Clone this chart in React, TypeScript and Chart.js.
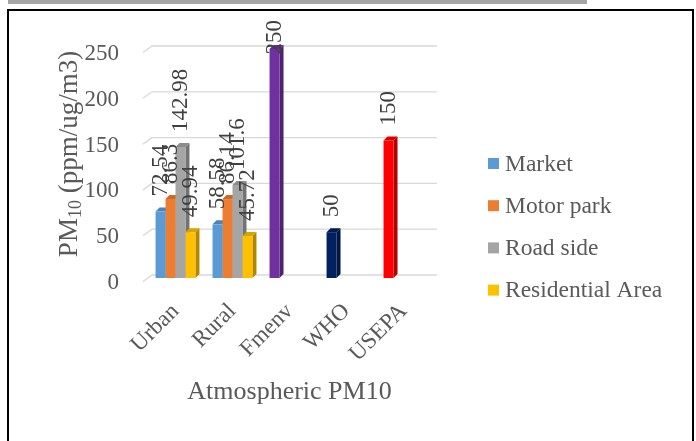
import React, { useEffect, useRef } from "react";
import { Chart, registerables } from "chart.js";

Chart.register(...registerables);

const categories = ["Urban", "Rural", "Fmenv", "WHO", "USEPA"];
const seriesNames = ["Market", "Motor park", "Road side", "Residential Area"];
const marketValues = [72.54, 58.58, 250, 50, 150];
const motorParkValues = [86.3, 86.14, null, null, null];
const roadSideValues = [142.98, 101.6, null, null, null];
const residentialValues = [49.94, 45.72, null, null, null];
const yTicks = [0, 50, 100, 150, 200, 250];
const seriesColors = ["#5B9BD5", "#ED7D31", "#A5A5A5", "#FFC000"];
const marketPointColors = ["#5B9BD5", "#5B9BD5", "#7030A0", "#002060", "#FF0000"];
const xTitle = "Atmospheric PM10";
const yTitleMain = "PM";
const yTitleSub = "10";
const yTitleRest = " (ppm/ug/m3)";

const FONT = '"Liberation Serif", "Times New Roman", serif';
const TEXT = "#595959";
const LABEL = "#404040";
const GRID = "#D9D9D9";

function shade(hex: string, f: number): string {
  const n = parseInt(hex.slice(1), 16);
  const r = Math.round(((n >> 16) & 255) * f);
  const g = Math.round(((n >> 8) & 255) * f);
  const b = Math.round((n & 255) * f);
  return `rgb(${r},${g},${b})`;
}

const floorGridPlugin = {
  id: "floorGrid",
  beforeDatasetsDraw(chart: any) {
    const { ctx, chartArea } = chart;
    const ys = chart.scales.y;
    ctx.save();
    ctx.strokeStyle = GRID;
    ctx.lineWidth = 1.3;
    yTicks.forEach((v) => {
      const y = ys.getPixelForValue(v);
      ctx.beginPath();
      ctx.moveTo(chartArea.left - 4, y + 3.5);
      ctx.lineTo(chartArea.left + 5, y - 3);
      ctx.lineTo(chartArea.right + 5, y - 3);
      ctx.stroke();
    });
    ctx.restore();
  },
};

const bar3dPlugin = {
  id: "bar3d",
  beforeDatasetsDraw(chart: any) {
    const { ctx } = chart;
    const d = 4;
    ctx.save();
    chart.data.datasets.forEach((ds: any, i: number) => {
      const meta = chart.getDatasetMeta(i);
      meta.data.forEach((el: any, j: number) => {
        const v = ds.data[j];
        if (v === null || v === undefined) return;
        const { x, y, width, base } = el.getProps(["x", "y", "width", "base"], true);
        const col = Array.isArray(ds.backgroundColor) ? ds.backgroundColor[j] : ds.backgroundColor;
        const xl = x - width / 2;
        const xr = x + width / 2;
        ctx.fillStyle = shade(col, 0.7);
        ctx.beginPath();
        ctx.moveTo(xr, y);
        ctx.lineTo(xr + d, y - d);
        ctx.lineTo(xr + d, base - d);
        ctx.lineTo(xr, base);
        ctx.closePath();
        ctx.fill();
        ctx.fillStyle = shade(col, 0.85);
        ctx.beginPath();
        ctx.moveTo(xl, y);
        ctx.lineTo(xl + d, y - d);
        ctx.lineTo(xr + d, y - d);
        ctx.lineTo(xr, y);
        ctx.closePath();
        ctx.fill();
      });
    });
    ctx.restore();
  },
};

const dataLabelPlugin = {
  id: "dataLabels",
  afterDatasetsDraw(chart: any) {
    const { ctx } = chart;
    ctx.save();
    ctx.font = `23px ${FONT}`;
    ctx.fillStyle = LABEL;
    ctx.textAlign = "left";
    ctx.textBaseline = "middle";
    chart.data.datasets.forEach((ds: any, i: number) => {
      const meta = chart.getDatasetMeta(i);
      meta.data.forEach((el: any, j: number) => {
        const v = ds.data[j];
        if (v === null || v === undefined) return;
        const text = String(v);
        const w = ctx.measureText(text).width;
        const start = Math.max(el.y - 15, 20 + w);
        ctx.save();
        ctx.translate(el.x, start);
        ctx.rotate(-Math.PI / 2);
        ctx.fillText(text, 0, 0);
        ctx.restore();
      });
    });
    ctx.restore();
  },
};

const legendPlugin = {
  id: "customLegend",
  afterDraw(chart: any) {
    const { ctx } = chart;
    const top = 163.5;
    const step = 42.2;
    ctx.save();
    ctx.font = `23.5px ${FONT}`;
    ctx.textAlign = "left";
    ctx.textBaseline = "middle";
    chart.data.datasets.forEach((ds: any, i: number) => {
      const cy = top + i * step;
      const col = Array.isArray(ds.backgroundColor) ? ds.backgroundColor[0] : ds.backgroundColor;
      ctx.fillStyle = col;
      ctx.fillRect(488, cy - 5.5, 11, 11);
      ctx.fillStyle = TEXT;
      ctx.fillText(ds.label, 505, cy + 1);
    });
    ctx.restore();
  },
};

const yTitlePlugin = {
  id: "yTitle",
  afterDraw(chart: any) {
    const { ctx } = chart;
    const big = `27px ${FONT}`;
    const small = `18px ${FONT}`;
    ctx.save();
    ctx.translate(77, 154);
    ctx.rotate(-Math.PI / 2);
    ctx.textAlign = "left";
    ctx.textBaseline = "alphabetic";
    ctx.fillStyle = TEXT;
    ctx.font = big;
    const w1 = ctx.measureText(yTitleMain).width;
    const w3 = ctx.measureText(yTitleRest).width;
    ctx.font = small;
    const w2 = ctx.measureText(yTitleSub).width;
    let x = -(w1 + w2 + w3) / 2;
    ctx.font = big;
    ctx.fillText(yTitleMain, x, 0);
    x += w1;
    ctx.font = small;
    ctx.fillText(yTitleSub, x, 4);
    x += w2;
    ctx.font = big;
    ctx.fillText(yTitleRest, x, 0);
    ctx.restore();
  },
};

export default function App() {
  const ref = useRef<HTMLCanvasElement | null>(null);

  useEffect(() => {
    document.body.style.margin = "0";
    const canvas = ref.current;
    if (!canvas) return;
    const chart = new Chart(canvas, {
      type: "bar",
      data: {
        labels: categories,
        datasets: [
          { label: seriesNames[0], data: marketValues, backgroundColor: marketPointColors },
          { label: seriesNames[1], data: motorParkValues, backgroundColor: seriesColors[1] },
          { label: seriesNames[2], data: roadSideValues, backgroundColor: seriesColors[2] },
          { label: seriesNames[3], data: residentialValues, backgroundColor: seriesColors[3] },
        ] as any,
      },
      options: {
        responsive: false,
        animation: false,
        devicePixelRatio: 1,
        events: [],
        layout: { padding: { left: 0, top: 49, right: 696 - 432, bottom: 0 } },
        datasets: { bar: { categoryPercentage: 0.7, barPercentage: 1 } },
        plugins: { legend: { display: false }, tooltip: { enabled: false }, title: { display: false } },
        scales: {
          x: {
            grid: { display: false },
            border: { display: false },
            ticks: {
              autoSkip: false,
              minRotation: 45,
              maxRotation: 45,
              padding: 12,
              color: TEXT,
              font: { family: FONT, size: 23 },
            },
            title: {
              display: true,
              text: xTitle,
              color: TEXT,
              font: { family: FONT, size: 26 },
              padding: { top: 0, bottom: 33 },
            },
            afterFit(scale: any) {
              scale.height = 441 - 278;
            },
          },
          y: {
            min: 0,
            max: 250,
            grid: { display: false },
            border: { display: false },
            afterBuildTicks(scale: any) {
              scale.ticks = yTicks.map((v) => ({ value: v }));
            },
            ticks: {
              padding: 20,
              labelOffset: 5,
              color: TEXT,
              font: { family: FONT, size: 23 },
            },
            afterFit(scale: any) {
              scale.width = 147;
            },
          },
        },
      },
      plugins: [floorGridPlugin, bar3dPlugin, dataLabelPlugin, legendPlugin, yTitlePlugin],
    } as any);
    return () => chart.destroy();
  }, []);

  return (
    <div
      style={{
        position: "fixed",
        left: 0,
        top: 0,
        width: 696,
        height: 441,
        overflow: "hidden",
        background: "#ffffff",
      }}
    >
      <div style={{ position: "absolute", left: 8, top: 0, width: 579, height: 4, background: "#A6A6A6" }} />
      <div
        style={{
          position: "absolute",
          left: 7,
          top: 9,
          width: 687,
          height: 460,
          border: "2px solid #000",
          boxSizing: "border-box",
        }}
      />
      <canvas
        ref={ref}
        width={696}
        height={441}
        style={{ position: "absolute", left: 0, top: 0, width: 696, height: 441 }}
      />
    </div>
  );
}
